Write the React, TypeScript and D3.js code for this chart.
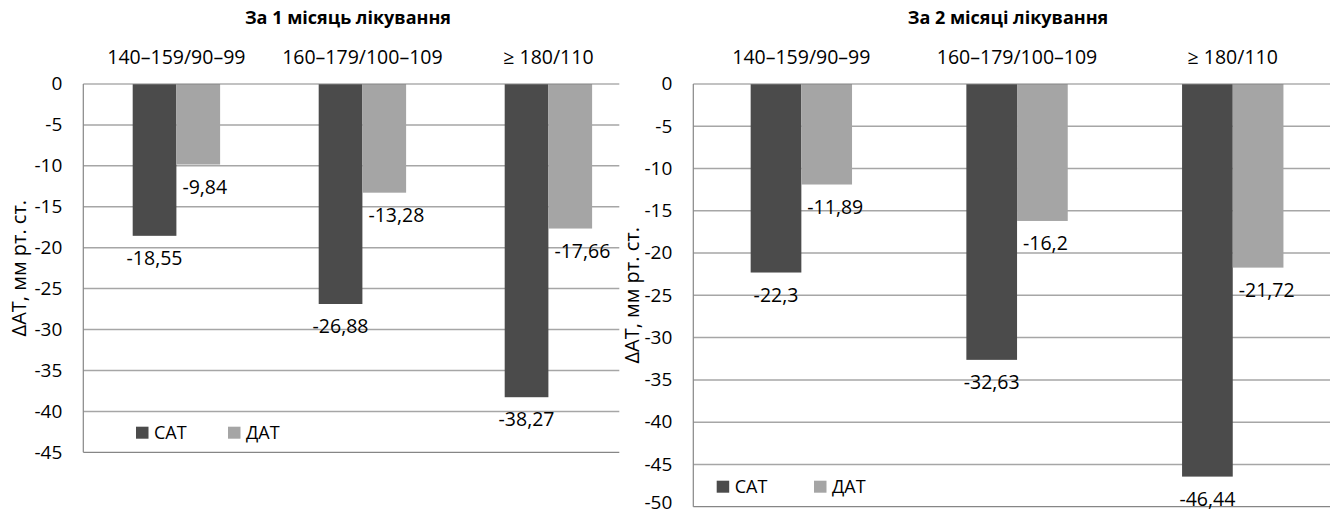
import React from "react";
import * as d3 from "d3";

// Blood-pressure groups (top category axis)
const categories = ["140–159/90–99", "160–179/100–109", "≥ 180/110"];
const seriesNames = ["САТ", "ДАТ"];

// Change in blood pressure after 1 month of treatment, mm Hg
const sat1Month = [-18.55, -26.88, -38.27];
const dat1Month = [-9.84, -13.28, -17.66];

// Change in blood pressure after 2 months of treatment, mm Hg
const sat2Months = [-22.3, -32.63, -46.44];
const dat2Months = [-11.89, -16.2, -21.72];

const ticks1Month = [0, -5, -10, -15, -20, -25, -30, -35, -40, -45];
const ticks2Months = [0, -5, -10, -15, -20, -25, -30, -35, -40, -45, -50];

const W = 1330;
const H = 514;
const FONT = "'Open Sans', 'Noto Sans', sans-serif";
const SAT_COLOR = "#4b4b4b";
const DAT_COLOR = "#a5a5a5";
const GRID_COLOR = "#a6a6a6";
const AXIS_COLOR = "#868686";
const TICK_FONT = 19;

type PanelProps = {
  title: string;
  sat: number[];
  dat: number[];
  ticks: number[];
  plotLeft: number;
  plotRight: number;
  bandRange: [number, number];
  plotTop: number;
  plotBottom: number;
  titleX: number;
  yTitleX: number;
  legendX: number;
  legendY: number;
  legendGap: number;
};

const fmt = (v: number) => String(v).replace(".", ",");

function Panel(p: PanelProps) {
  const yMin = d3.min(p.ticks) as number;
  const y = d3.scaleLinear().domain([0, yMin]).range([p.plotTop, p.plotBottom]);
  const x = d3
    .scaleBand<string>()
    .domain(categories)
    .range(p.bandRange)
    .paddingInner(0.53)
    .paddingOuter(0.265);
  const xs = d3.scaleBand<string>().domain(seriesNames).range([0, x.bandwidth()]);
  const bw = xs.bandwidth();
  const series = [
    { name: "САТ", values: p.sat, color: SAT_COLOR },
    { name: "ДАТ", values: p.dat, color: DAT_COLOR },
  ];
  const yMid = (p.plotTop + p.plotBottom) / 2;
  // keep the lowest tick label inside the canvas
  const tickLabelY = (t: number) => Math.min(y(t), H - 11.5);

  return (
    <g>
      <text
        x={p.titleX}
        y={24}
        textAnchor="middle"
        fontFamily={FONT}
        fontWeight="bold"
        fontSize={18}
        fill="#000"
      >
        {p.title}
      </text>

      {/* category labels above the plot */}
      {categories.map((c) => (
        <text
          key={c}
          x={(x(c) as number) + x.bandwidth() / 2}
          y={64}
          textAnchor="middle"
          fontFamily={FONT}
          fontSize={19.5}
          fill="#000"
        >
          {c}
        </text>
      ))}

      {/* horizontal gridlines and tick labels */}
      {p.ticks.map((t) => (
        <g key={t}>
          {t !== 0 && t !== yMin && (
            <line
              x1={p.plotLeft}
              x2={p.plotRight}
              y1={y(t)}
              y2={y(t)}
              stroke={GRID_COLOR}
              strokeWidth={1.5}
            />
          )}
          <text
            x={p.plotLeft - 21}
            y={tickLabelY(t)}
            dy="0.33em"
            textAnchor="end"
            fontFamily={FONT}
            fontSize={TICK_FONT}
            fill="#000"
          >
            {t}
          </text>
        </g>
      ))}

      {/* bars */}
      {series.map((s) =>
        s.values.map((v, i) => (
          <rect
            key={s.name + i}
            x={(x(categories[i]) as number) + (xs(s.name) as number)}
            y={y(0)}
            width={bw}
            height={y(v) - y(0)}
            fill={s.color}
          />
        ))
      )}

      {/* frame: top (zero) line, left axis, bottom line */}
      <line x1={p.plotLeft} x2={p.plotRight} y1={y(0)} y2={y(0)} stroke={AXIS_COLOR} strokeWidth={1.2} />
      <line x1={p.plotLeft} x2={p.plotRight} y1={y(yMin)} y2={y(yMin)} stroke={AXIS_COLOR} strokeWidth={1.2} />
      <line x1={p.plotLeft} x2={p.plotLeft} y1={y(0)} y2={y(yMin)} stroke={AXIS_COLOR} strokeWidth={1.2} />

      {/* value labels */}
      {p.sat.map((v, i) => (
        <text
          key={"ls" + i}
          x={(x(categories[i]) as number) + (xs("САТ") as number) + bw / 2}
          y={y(v) + 29}
          textAnchor="middle"
          fontFamily={FONT}
          fontSize={19.5}
          fill="#000"
        >
          {fmt(v)}
        </text>
      ))}
      {p.dat.map((v, i) => (
        <text
          key={"ld" + i}
          x={(x(categories[i]) as number) + (xs("ДАТ") as number) + 6}
          y={y(v) + 29}
          textAnchor="start"
          fontFamily={FONT}
          fontSize={19.5}
          fill="#000"
        >
          {fmt(v)}
        </text>
      ))}

      {/* y-axis title */}
      <text
        transform={`translate(${p.yTitleX},${yMid}) rotate(-90)`}
        dy="0.35em"
        textAnchor="middle"
        fontFamily={FONT}
        fontSize={20}
        fill="#000"
      >
        ΔАТ, мм рт. ст.
      </text>

      {/* legend */}
      {series.map((s, i) => (
        <g key={"lg" + s.name} transform={`translate(${p.legendX + i * p.legendGap},${p.legendY})`}>
          <rect x={0} y={0} width={12.5} height={12} fill={s.color} />
          <text x={18} y={6} dy="0.36em" fontFamily={FONT} fontSize={18} fill="#000">
            {s.name}
          </text>
        </g>
      ))}
    </g>
  );
}

export default function App() {
  return (
    <svg
      width={W}
      height={H}
      viewBox={`0 0 ${W} ${H}`}
      style={{ position: "absolute", left: 0, top: 0, background: "#fff" }}
    >
      <rect width={W} height={H} fill="#fff" />
      <Panel
        title="За 1 місяць лікування"
        sat={sat1Month}
        dat={dat1Month}
        ticks={ticks1Month}
        plotLeft={83.3}
        plotRight={619.3}
        bandRange={[83.4, 641.4]}
        plotTop={84}
        plotBottom={452.3}
        titleX={348}
        yTitleX={19}
        legendX={136}
        legendY={426.7}
        legendGap={92}
      />
      <Panel
        title="За 2 місяці лікування"
        sat={sat2Months}
        dat={dat2Months}
        ticks={ticks2Months}
        plotLeft={693.3}
        plotRight={1330}
        bandRange={[693.5, 1340.6]}
        plotTop={84}
        plotBottom={506.7}
        titleX={1008}
        yTitleX={632}
        legendX={716.7}
        legendY={480.7}
        legendGap={97.3}
      />
    </svg>
  );
}
